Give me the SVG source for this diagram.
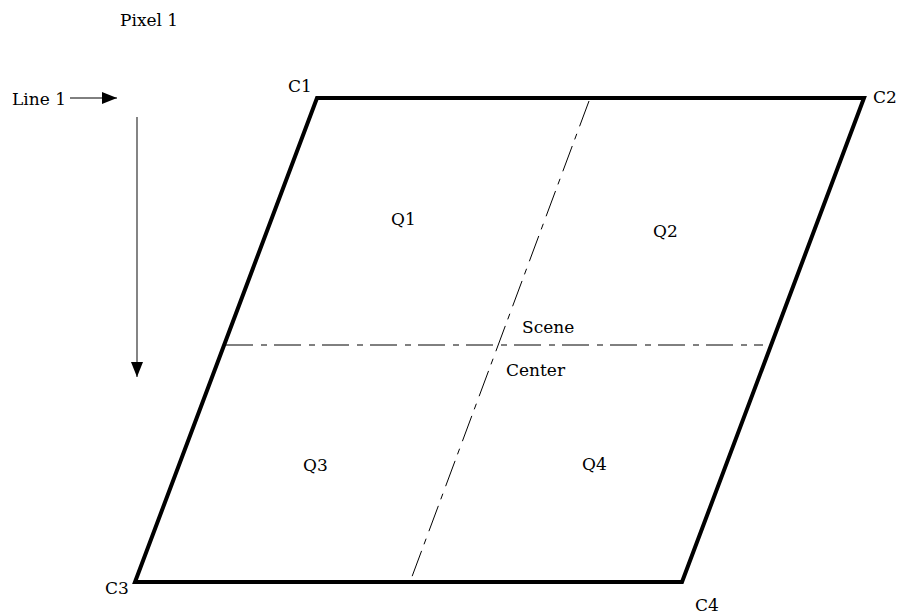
<svg xmlns="http://www.w3.org/2000/svg" width="902" height="614" viewBox="0 0 902 614">
<style>
text{font-family:"DejaVu Serif","Liberation Serif",serif;font-size:17px;fill:#000}
.dd{fill:none;stroke:#000;stroke-width:1;stroke-dasharray:27 8 6 7}
</style>
<defs>
<marker id="ah" markerWidth="16" markerHeight="12" refX="15" refY="6" orient="auto" markerUnits="userSpaceOnUse">
<path d="M0,0 L15,6 L0,12 Z" fill="#000"/>
</marker>
</defs>
<rect width="902" height="614" fill="#fff"/>
<g id="frame">
<polygon points="317,98 864,98 682,582 135,582" fill="none" stroke="#000" stroke-width="4" stroke-linejoin="miter"/>
</g>
<g id="axes">
<line class="dd" x1="226" y1="345" x2="763" y2="345"/>
<line class="dd" x1="589" y1="101" x2="410" y2="582"/>
</g>
<g id="connectors">
<line x1="70" y1="98" x2="117" y2="98" stroke="#000" stroke-width="1" marker-end="url(#ah)"/>
<line x1="137" y1="117" x2="137" y2="377" stroke="#333" stroke-width="1.2" marker-end="url(#ah)"/>
</g>
<g id="labels">
<text x="120" y="26">Pixel 1</text>
<text x="12" y="105">Line 1</text>
<text x="288" y="92">C1</text>
<text x="873" y="103">C2</text>
<text x="105" y="594">C3</text>
<text x="695" y="611">C4</text>
<text x="391" y="225">Q1</text>
<text x="653" y="237">Q2</text>
<text x="303" y="471">Q3</text>
<text x="582" y="470">Q4</text>
<text x="522" y="333">Scene</text>
<text x="506" y="376">Center</text>
</g>
</svg>
